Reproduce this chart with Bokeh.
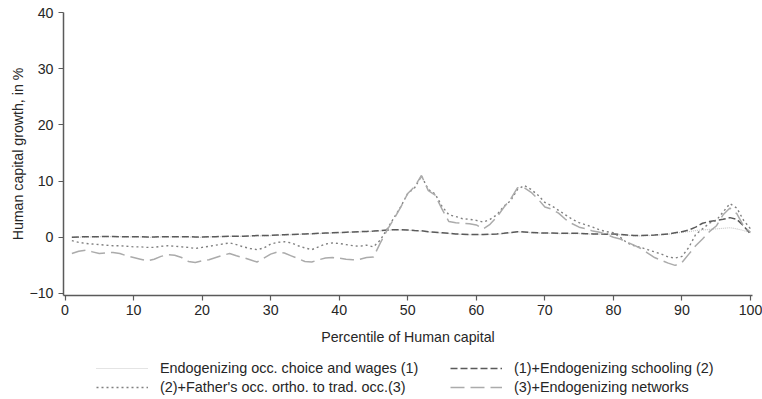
from bokeh.plotting import figure
from bokeh.models import Legend, LegendItem, Range1d, FixedTicker
from bokeh.layouts import column
from bokeh.embed import file_html
from bokeh.resources import INLINE

percentile = list(range(1, 101))

occ_choice_wages = [
    0.0, 0.0, 0.05, 0.05, 0.1, 0.1, 0.1, 0.1, 0.05, 0.05, 0.05, 0.0, 0.0, 0.05, 0.05, 0.05, 0.05, 0.05, 0.0, 0.0,
    0.05, 0.1, 0.1, 0.15, 0.15, 0.15, 0.2, 0.25, 0.25, 0.3, 0.35, 0.4, 0.45, 0.5, 0.55, 0.6, 0.65, 0.7, 0.75, 0.8,
    0.85, 0.9, 0.95, 1.0, 1.05, 1.15, 1.25, 1.3, 1.3, 1.25, 1.15, 1.1, 0.95, 0.85, 0.75, 0.65, 0.55, 0.5, 0.45, 0.45,
    0.45, 0.5, 0.55, 0.65, 0.8, 0.95, 0.9, 0.8, 0.75, 0.7, 0.7, 0.65, 0.65, 0.65, 0.65, 0.6, 0.55, 0.55, 0.5, 0.55,
    0.45, 0.35, 0.25, 0.25, 0.3, 0.35, 0.45, 0.55, 0.7, 0.9, 1.0, 1.2, 1.3, 1.4, 1.5, 1.6, 1.7, 1.5, 1.2, 0.8,
]

schooling = [
    0.0, 0.05, 0.1, 0.1, 0.1, 0.15, 0.15, 0.1, 0.1, 0.1, 0.1, 0.05, 0.05, 0.1, 0.1, 0.1, 0.1, 0.1, 0.05, 0.05,
    0.1, 0.1, 0.15, 0.2, 0.2, 0.2, 0.25, 0.3, 0.3, 0.35, 0.4, 0.45, 0.5, 0.55, 0.6, 0.65, 0.7, 0.75, 0.8, 0.85,
    0.9, 0.95, 1.0, 1.05, 1.1, 1.2, 1.3, 1.35, 1.35, 1.3, 1.2, 1.15, 1.0, 0.9, 0.8, 0.7, 0.6, 0.55, 0.5, 0.5,
    0.5, 0.55, 0.6, 0.7, 0.85, 1.0, 0.95, 0.85, 0.8, 0.75, 0.75, 0.7, 0.7, 0.7, 0.7, 0.65, 0.6, 0.6, 0.55, 0.6,
    0.5, 0.4, 0.3, 0.3, 0.35, 0.4, 0.5, 0.6, 0.8, 1.0, 1.3, 1.8, 2.5, 2.8, 3.0, 3.2, 3.5, 3.2, 2.0, 0.6,
]

father_occ = [
    -0.6, -0.9, -1.1, -1.2, -1.3, -1.4, -1.5, -1.5, -1.6, -1.7, -1.7, -1.8, -1.8, -1.6, -1.5, -1.6, -1.7, -1.8, -2.0, -1.8,
    -1.6, -1.4, -1.2, -1.0, -1.3, -1.7, -2.0, -2.2, -1.9, -1.2, -0.9, -0.8, -1.0, -1.5, -1.9, -2.2, -1.7, -1.2, -1.0, -1.1,
    -1.3, -1.5, -1.6, -1.4, -1.7, -0.5, 1.5, 3.5, 5.5, 7.8, 8.8, 10.9, 8.5, 7.7, 5.5, 4.0, 3.7, 3.3, 3.2, 3.0,
    2.7, 3.2, 4.0, 5.5, 6.5, 8.5, 9.2, 8.5, 7.5, 6.2, 5.6, 4.8, 4.0, 3.2, 2.6, 2.2, 1.8, 1.3, 1.0, 0.8,
    0.0, -1.0, -1.5, -1.8, -2.2, -2.6, -3.0, -3.5, -3.7, -3.4, -1.8, 0.5, 1.5, 2.5, 3.0, 4.5, 6.0, 5.2, 3.0, 1.5,
]

networks = [
    -2.9, -2.5, -2.3, -2.6, -2.9, -2.8, -2.7, -2.9, -3.3, -3.6, -3.9, -4.2, -3.9, -3.4, -3.1, -3.2, -3.6, -4.3, -4.5, -4.2,
    -4.0, -3.6, -3.2, -2.9, -3.3, -3.6, -4.0, -4.4, -3.7, -3.0, -2.6, -2.8, -3.3, -3.8, -4.3, -4.4, -4.0, -3.7, -3.6, -3.7,
    -3.9, -4.0, -3.9, -3.6, -3.5, -1.0, 1.3, 3.3, 5.4, 7.8, 9.0, 11.0, 8.3, 7.5, 5.0, 2.8, 2.6, 2.5, 2.4, 2.2,
    1.5, 2.3, 3.6, 5.3, 6.8, 8.8, 8.8, 8.0, 6.8, 5.4, 5.0, 4.3, 3.2, 2.4, 1.8, 1.5, 1.1, 0.9, 0.5, 0.0,
    -0.3, -0.9, -1.4, -2.0, -2.8, -3.6, -4.1, -4.6, -5.0, -4.5, -3.0, -1.5, -0.3, 1.0, 2.0, 4.0, 5.2, 4.2, 2.0, 0.9,
]

series_labels = [
    "Endogenizing occ. choice and wages (1)",
    "(1)+Endogenizing schooling (2)",
    "(2)+Father's occ. ortho. to trad. occ.(3)",
    "(3)+Endogenizing networks",
]
x_ticks = [0, 10, 20, 30, 40, 50, 60, 70, 80, 90, 100]
y_ticks = [-10, 0, 10, 20, 30, 40]

FONT = "Liberation Sans"
TXT = "#262626"
STYLES = [
    dict(line_color="#c8c8c8", line_width=1.2, line_dash="1 1"),
    dict(line_color="#5a5a5a", line_width=1.5, line_dash="7 3"),
    dict(line_color="#808080", line_width=1.4, line_dash="2 3"),
    dict(line_color="#ababab", line_width=1.5, line_dash="14 6"),
]

p = figure(width=762, height=352, output_backend="svg", toolbar_location=None,
           x_range=Range1d(-0.22, 100.29), y_range=Range1d(-10.36, 40.0),
           min_border_left=63, min_border_right=10, min_border_top=12, min_border_bottom=57)
p.outline_line_color = None
p.xgrid.visible = False
p.ygrid.visible = False
p.background_fill_color = "white"
p.border_fill_color = "white"

series = [occ_choice_wages, schooling, father_occ, networks]
for vals, st in zip(series, STYLES):
    p.line(percentile, vals, **st)

for ax in (p.xaxis[0], p.yaxis[0]):
    ax.axis_line_color = "#5a5a5a"
    ax.axis_line_width = 1.5
    ax.major_tick_line_color = "#5a5a5a"
    ax.major_tick_line_width = 1.2
    ax.major_tick_out = 5
    ax.major_tick_in = 0
    ax.minor_tick_line_color = None
    ax.major_label_text_font = FONT
    ax.major_label_text_font_size = "14.2px"
    ax.major_label_text_color = TXT
    ax.axis_label_text_font = FONT
    ax.axis_label_text_font_size = "14.2px"
    ax.axis_label_text_font_style = "normal"
    ax.axis_label_text_color = TXT

p.xaxis[0].ticker = FixedTicker(ticks=x_ticks)
p.yaxis[0].ticker = FixedTicker(ticks=y_ticks)
p.xaxis[0].axis_label = "Percentile of Human capital"
p.yaxis[0].axis_label = "Human capital growth, in %"
p.xaxis[0].major_label_standoff = 4
p.xaxis[0].axis_label_standoff = 11
p.yaxis[0].major_label_standoff = 5
p.yaxis[0].axis_label_standoff = 0

# legend strip below the plot (series drawn outside its visible y-range, only legend shows)
lg = figure(width=762, height=46, output_backend="svg", toolbar_location=None,
            x_range=Range1d(-0.22, 100.29), y_range=Range1d(1000, 1001),
            x_axis_location=None, y_axis_location=None,
            min_border_left=63, min_border_right=10, min_border_top=0, min_border_bottom=0)
lg.outline_line_color = None
lg.xgrid.visible = False
lg.ygrid.visible = False
lg.background_fill_color = "white"
lg.border_fill_color = "white"
lg_r = [lg.line(percentile, vals, **st) for vals, st in zip(series, STYLES)]


def make_legend(idx, x):
    leg = Legend(items=[LegendItem(label=series_labels[i], renderers=[lg_r[i]]) for i in idx])
    leg.location = (x, 3)
    leg.orientation = "vertical"
    leg.border_line_color = None
    leg.background_fill_alpha = 0
    leg.label_text_font = FONT
    leg.label_text_font_size = "14.4px"
    leg.label_text_color = TXT
    leg.glyph_width = 52
    leg.glyph_height = 16
    leg.label_height = 16
    leg.label_standoff = 12
    leg.spacing = 3
    leg.padding = 0
    leg.margin = 0
    return leg


lg.add_layout(make_legend([0, 2], 33), "center")
lg.add_layout(make_legend([1, 3], 387), "center")

layout = column(p, lg, spacing=0)
open("out.html", "w").write(file_html(layout, INLINE))
